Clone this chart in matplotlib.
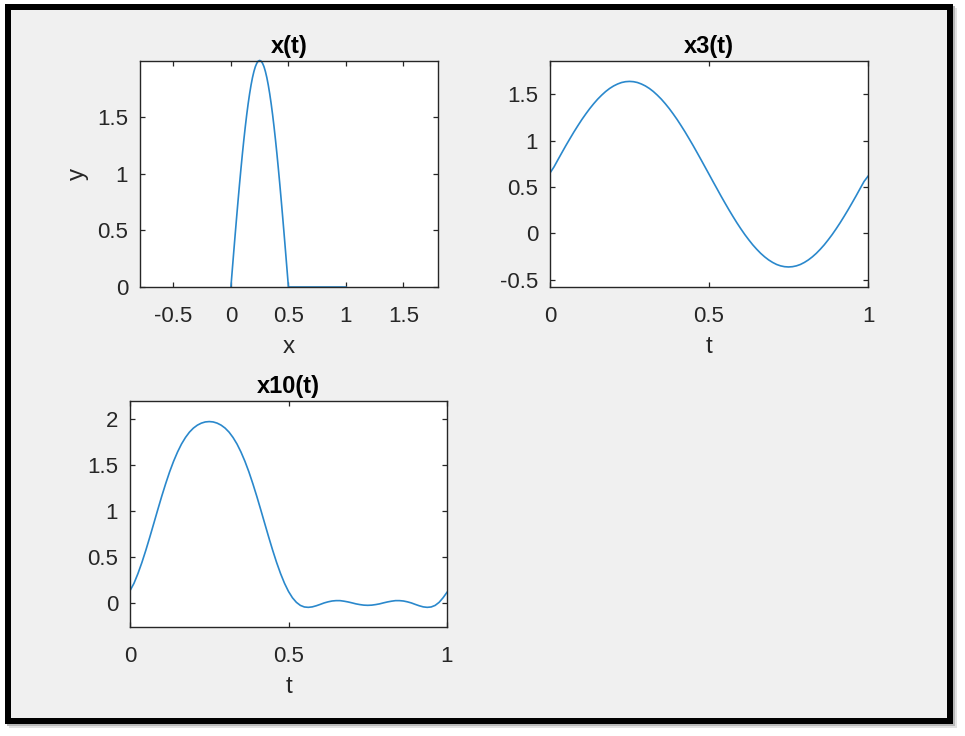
import matplotlib
matplotlib.use("Agg")
import matplotlib.pyplot as plt
from matplotlib.patches import Rectangle

# ---------------- data ----------------
t = [0.0, 0.0125, 0.025, 0.0375, 0.05, 0.0625, 0.075, 0.0875, 0.1, 0.1125,
     0.125, 0.1375, 0.15, 0.1625, 0.175, 0.1875, 0.2, 0.2125, 0.225, 0.2375,
     0.25, 0.2625, 0.275, 0.2875, 0.3, 0.3125, 0.325, 0.3375, 0.35, 0.3625,
     0.375, 0.3875, 0.4, 0.4125, 0.425, 0.4375, 0.45, 0.4625, 0.475, 0.4875,
     0.5, 0.5125, 0.525, 0.5375, 0.55, 0.5625, 0.575, 0.5875, 0.6, 0.6125,
     0.625, 0.6375, 0.65, 0.6625, 0.675, 0.6875, 0.7, 0.7125, 0.725, 0.7375,
     0.75, 0.7625, 0.775, 0.7875, 0.8, 0.8125, 0.825, 0.8375, 0.85, 0.8625,
     0.875, 0.8875, 0.9, 0.9125, 0.925, 0.9375, 0.95, 0.9625, 0.975, 0.9875,
     1.0]

x_t = [0.0, 0.157, 0.313, 0.467, 0.618, 0.765, 0.908, 1.045, 1.176, 1.299,
       1.414, 1.521, 1.618, 1.705, 1.782, 1.848, 1.902, 1.945, 1.975, 1.994,
       2.0, 1.994, 1.975, 1.945, 1.902, 1.848, 1.782, 1.705, 1.618, 1.521,
       1.414, 1.299, 1.176, 1.045, 0.908, 0.765, 0.618, 0.467, 0.313, 0.157,
       0.0, 0.0, 0.0, 0.0, 0.0, 0.0, 0.0, 0.0, 0.0, 0.0,
       0.0, 0.0, 0.0, 0.0, 0.0, 0.0, 0.0, 0.0, 0.0, 0.0,
       0.0, 0.0, 0.0, 0.0, 0.0, 0.0, 0.0, 0.0, 0.0, 0.0,
       0.0, 0.0, 0.0, 0.0, 0.0, 0.0, 0.0, 0.0, 0.0, 0.0,
       0.0]

x3_t = [0.650, 0.715, 0.793, 0.870, 0.946, 1.019, 1.091, 1.159, 1.225, 1.286,
        1.344, 1.397, 1.446, 1.489, 1.528, 1.561, 1.588, 1.609, 1.625, 1.634,
        1.637, 1.634, 1.625, 1.609, 1.588, 1.561, 1.528, 1.489, 1.446, 1.397,
        1.344, 1.286, 1.225, 1.159, 1.091, 1.019, 0.946, 0.870, 0.793, 0.715,
        0.637, 0.558, 0.481, 0.403, 0.328, 0.254, 0.183, 0.114, 0.049, -0.013,
        -0.070, -0.124, -0.172, -0.216, -0.254, -0.287, -0.314, -0.336, -0.351, -0.360,
        -0.363, -0.360, -0.351, -0.336, -0.314, -0.287, -0.254, -0.216, -0.172, -0.124,
        -0.070, -0.013, 0.049, 0.114, 0.183, 0.254, 0.328, 0.403, 0.481, 0.558,
        0.615]

x10_t = [0.135, 0.215, 0.321, 0.442, 0.576, 0.719, 0.867, 1.016, 1.162, 1.300,
         1.429, 1.544, 1.645, 1.732, 1.803, 1.861, 1.905, 1.937, 1.959, 1.972,
         1.976, 1.972, 1.959, 1.937, 1.905, 1.861, 1.803, 1.732, 1.645, 1.544,
         1.429, 1.300, 1.162, 1.016, 0.867, 0.719, 0.576, 0.442, 0.321, 0.215,
         0.127, 0.058, 0.008, -0.025, -0.042, -0.046, -0.041, -0.029, -0.014, 0.002,
         0.014, 0.023, 0.027, 0.027, 0.021, 0.013, 0.003, -0.008, -0.016, -0.022,
         -0.024, -0.022, -0.016, -0.008, 0.003, 0.013, 0.021, 0.027, 0.027, 0.023,
         0.014, 0.002, -0.014, -0.029, -0.041, -0.046, -0.042, -0.025, 0.008, 0.058,
         0.118]

titles = ["x(t)", "x3(t)", "x10(t)"]
xticks1 = [-0.5, 0, 0.5, 1, 1.5]
xticklabels1 = ["-0.5", "0", "0.5", "1", "1.5"]
yticks1 = [0, 0.5, 1, 1.5]
yticklabels1 = ["0", "0.5", "1", "1.5"]
xticks23 = [0, 0.5, 1]
xticklabels23 = ["0", "0.5", "1"]
yticks2 = [-0.5, 0, 0.5, 1, 1.5]
yticklabels2 = ["-0.5", "0", "0.5", "1", "1.5"]
yticks3 = [0, 0.5, 1, 1.5, 2]
yticklabels3 = ["0", "0.5", "1", "1.5", "2"]

# ---------------- style ----------------
W, H = 965, 736
plt.rcParams['font.family'] = ['Liberation Sans', 'DejaVu Sans']
LINE = '#2a88cc'
AX = '#262626'
BG = '#f0f0f0'
TICK_FS = 16
LABEL_FS = 17.5
TITLE_FS = 17

fig = plt.figure(figsize=(W / 100, H / 100), dpi=100)
fig.patch.set_facecolor('white')


def fr(x0, y0, x1, y1):
    """pixel box (top-left origin) -> figure fraction rect"""
    return (x0 / W, 1 - y1 / H, (x1 - x0) / W, (y1 - y0) / H)


# shadow, black frame and grey window
for (x0, y0, x1, y1, c) in [(9, 8, 957, 728, '#e2e2e2'),
                            (7, 6, 955, 726, '#b8b8b8'),
                            (5, 4, 953, 724, 'black'),
                            (11, 10, 947, 718, BG)]:
    l, b, w, h = fr(x0, y0, x1, y1)
    fig.patches.append(Rectangle((l, b), w, h, transform=fig.transFigure,
                                 facecolor=c, edgecolor='none', zorder=-5))


def style(ax):
    ax.set_facecolor('white')
    for s in ax.spines.values():
        s.set_color(AX)
        s.set_linewidth(1.0)
    ax.tick_params(direction='in', length=3.5, width=0.9, color=AX,
                   labelcolor=AX, labelsize=TICK_FS, top=True, right=True)
    ax.tick_params(axis='x', pad=13.5)
    ax.tick_params(axis='y', pad=8.5)


def deco(ax, title, xlabel):
    ax.set_title(title, fontsize=TITLE_FS, fontweight='bold', color='black', pad=6)
    ax.set_xlabel(xlabel, fontsize=LABEL_FS, color=AX, labelpad=7)


# subplot 1
ax1 = fig.add_axes(fr(140, 61, 438, 287))
style(ax1)
ax1.plot(t, x_t, color=LINE, lw=1.2, clip_on=False)
ax1.set_xlim(-0.79, 1.8)
ax1.set_ylim(0, 1.995)
ax1.set_xticks(xticks1, xticklabels1)
ax1.set_yticks(yticks1, yticklabels1)
deco(ax1, titles[0], 'x')
ax1.set_ylabel('y', fontsize=LABEL_FS, color=AX, labelpad=6)

# subplot 2
ax2 = fig.add_axes(fr(550, 61, 868, 287))
style(ax2)
ax2.plot(t, x3_t, color=LINE, lw=1.2)
ax2.set_xlim(0, 1)
ax2.set_ylim(-0.579, 1.857)
ax2.set_xticks(xticks23, xticklabels23)
ax2.set_yticks(yticks2, yticklabels2)
deco(ax2, titles[1], 't')

# subplot 3
ax3 = fig.add_axes(fr(130, 401, 447, 627))
style(ax3)
ax3.plot(t, x10_t, color=LINE, lw=1.2)
ax3.set_xlim(0, 1)
ax3.set_ylim(-0.26, 2.2)
ax3.set_xticks(xticks23, xticklabels23)
ax3.set_yticks(yticks3, yticklabels3)
deco(ax3, titles[2], 't')

fig.savefig('out.png', dpi=100, facecolor=fig.get_facecolor())
